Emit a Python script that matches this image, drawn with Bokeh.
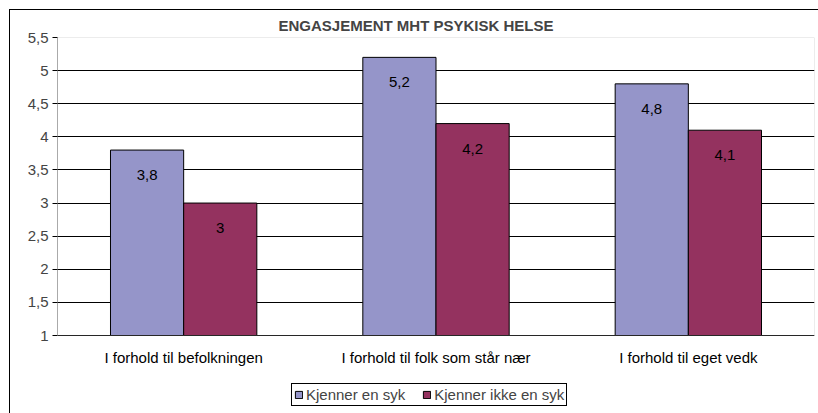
from bokeh.plotting import figure
from bokeh.models import (ColumnDataSource, FixedTicker, CustomJSTickFormatter,
                          LabelSet, FactorRange, Range1d, BoxAnnotation)
from bokeh.core.properties import value
from bokeh.transform import dodge
from bokeh.embed import file_html
from bokeh.resources import INLINE

categories = ["I forhold til befolkningen", "I forhold til folk som står nær", "I forhold til eget vedk"]
series_names = ["Kjenner en syk", "Kjenner ikke en syk"]
kjenner = [3.8, 5.2, 4.8]
kjenner_ikke = [3.0, 4.2, 4.1]
y_ticks = [1, 1.5, 2, 2.5, 3, 3.5, 4, 4.5, 5, 5.5]

def fmt(v):
    s = ("%g" % v)
    return s.replace(".", ",")

src = ColumnDataSource(dict(
    cat=categories,
    a=kjenner, b=kjenner_ikke,
    la=[fmt(v) for v in kjenner], lb=[fmt(v) for v in kjenner_ikke],
))

FONT = "Liberation Sans"
FS = "15px"

y_min, y_max = y_ticks[0], y_ticks[-1]
plot_h = 298                      # pixel height of the value area
px_per_unit = plot_h / (y_max - y_min)
extra_below = 79                  # room under the value area for labels & legend
y_start = y_min - extra_below / px_per_unit

p = figure(x_range=FactorRange(*categories, range_padding=0), y_range=Range1d(y_start, y_max),
           frame_width=757, frame_height=plot_h + extra_below, output_backend="svg",
           toolbar_location=None,
           min_border_left=47, min_border_right=4, min_border_top=26, min_border_bottom=0,
           title="ENGASJEMENT MHT PSYKISK HELSE")
p.title.align = "left"
p.title.text_font = FONT
p.title.text_font_size = FS
p.title.text_font_style = "bold"
p.title.offset = 221
p.title.standoff = 8

# plot-area border (gray) and the value axis line (black)
p.add_layout(BoxAnnotation(left=0, right=len(categories), bottom=y_min, top=y_max,
                           fill_color=None, line_color="#808080", line_width=1))
p.add_layout(BoxAnnotation(left=0, right=0, bottom=y_min, top=y_max,
                           fill_color=None, line_color="black", line_width=1))

bw = 0.29
r1 = p.vbar(x=dodge("cat", -bw / 2, range=p.x_range), top="a", bottom=y_min, width=bw, source=src,
            fill_color="#9595C9", line_color="black", line_width=1, legend_label=series_names[0])
r2 = p.vbar(x=dodge("cat", bw / 2, range=p.x_range), top="b", bottom=y_min, width=bw, source=src,
            fill_color="#94325F", line_color="black", line_width=1, legend_label=series_names[1])

for col, lab, off in (("a", "la", -bw / 2), ("b", "lb", bw / 2)):
    ls = LabelSet(x=dodge("cat", off, range=p.x_range), y=col, text=lab, source=src,
                  y_offset=-25, text_align="center", text_baseline="middle",
                  text_font=value(FONT), text_font_size=value(FS), text_color="black")
    p.add_layout(ls)

# category labels under the value area
p.add_layout(LabelSet(x="cat", y=y_min, text="cat", source=src, y_offset=-22,
                      text_align="center", text_baseline="middle",
                      text_font=value(FONT), text_font_size=value(FS), text_color="black"))

p.yaxis.ticker = FixedTicker(ticks=y_ticks)
p.yaxis.formatter = CustomJSTickFormatter(code="return tick.toString().replace('.', ',');")
p.yaxis.major_label_text_font = FONT
p.yaxis.major_label_text_font_size = FS
p.yaxis.major_tick_in = 0
p.yaxis.major_tick_out = 5
p.yaxis.minor_tick_line_color = None
p.yaxis.axis_line_color = None
p.yaxis.major_tick_line_color = "black"
p.yaxis.major_label_standoff = 4

p.xaxis.visible = False

p.xgrid.grid_line_color = None
p.ygrid.ticker = FixedTicker(ticks=y_ticks[:-1])
p.ygrid.grid_line_color = "black"
p.ygrid.grid_line_width = 1

p.outline_line_color = None

leg = p.legend[0]
leg.orientation = "horizontal"
leg.location = (234, 8)
leg.glyph_width = 9
leg.glyph_height = 9
leg.label_text_font = FONT
leg.label_text_font_size = FS
leg.label_standoff = 3
leg.label_height = 14
leg.spacing = 17
leg.padding = 2
leg.margin = 0
leg.border_line_color = "black"
leg.border_line_alpha = 1
leg.border_line_width = 1
leg.background_fill_alpha = 1

p.styles = {"margin-left": "9px", "margin-top": "9px",
            "border-left": "1px solid black", "border-top": "1px solid black"}

open("out.html", "w").write(file_html(p, INLINE))
